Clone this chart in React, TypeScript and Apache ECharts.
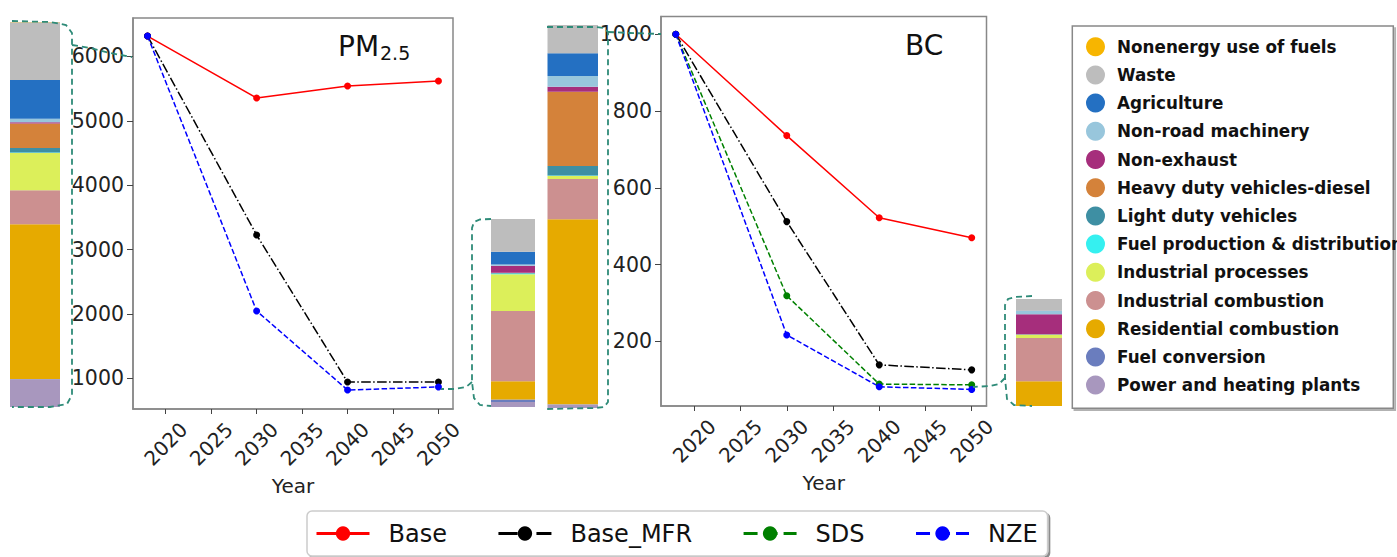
import React, { useEffect, useRef } from "react";
import * as echarts from "echarts";

// ---------- data ----------
const years = [2018, 2030, 2040, 2050];

const pmBase = [6316, 5353, 5540, 5617];
const pmBaseMFR = [6316, 3226, 943, 943];
const pmNZE = [6316, 2046, 819, 866];

const bcBase = [1000, 736, 522, 470];
const bcBaseMFR = [1000, 512, 139, 126];
const bcSDS = [1000, 319, 89, 87];
const bcNZE = [1000, 217, 82, 75];

const xTicks = [2020, 2025, 2030, 2035, 2040, 2045, 2050];
const pmTicks = [1000, 2000, 3000, 4000, 5000, 6000];
const bcTicks = [200, 400, 600, 800, 1000];

const scenarios = ["Base", "Base_MFR", "SDS", "NZE"];

// sectors listed top (legend order) -> bottom
const sectors = [
  "Nonenergy use of fuels",
  "Waste",
  "Agriculture",
  "Non-road machinery",
  "Non-exhaust",
  "Heavy duty vehicles-diesel",
  "Light duty vehicles",
  "Fuel production & distribution",
  "Industrial processes",
  "Industrial combustion",
  "Residential combustion",
  "Fuel conversion",
  "Power and heating plants",
];
const sectorColors = [
  "#F7B500",
  "#BDBDBD",
  "#2470C2",
  "#98C6DC",
  "#A62E7C",
  "#D4823A",
  "#3E8FA3",
  "#35F0F0",
  "#DCEF5A",
  "#CC9090",
  "#E6AA00",
  "#6A7DBE",
  "#A897BE",
];

// sector breakdowns (same order as sectors)
const pm2018 = [5, 949, 641, 54, 21, 406, 72, 8, 613, 559, 2548, 8, 455];
const pm2050NZE = [0, 146, 57, 6, 31, 1, 2, 4, 164, 313, 81, 12, 22];
const bc2018 = [0, 74, 59, 28, 13, 194, 25, 1, 8, 105, 483, 1, 9];
const bc2050NZE = [0, 8.8, 0.3, 2.5, 15, 0.2, 0.2, 0.2, 2.2, 32.8, 18.7, 0, 0];

const FONT = "DejaVu Sans";

export default function App() {
  const ref = useRef<HTMLDivElement>(null);

  useEffect(() => {
    if (!ref.current) return;
    const chart = echarts.init(ref.current, undefined, { renderer: "svg" });

    const scenStyle: Record<string, { color: string; dash: any; legendDash: any }> = {
      Base: { color: "#FF0000", dash: "solid", legendDash: "solid" },
      Base_MFR: { color: "#000000", dash: [9.6, 2.4, 1.5, 2.4], legendDash: [19.2, 4.8, 3, 11] },
      SDS: { color: "#008000", dash: [5.5, 2.4], legendDash: [14, 6] },
      NZE: { color: "#0000FF", dash: [5.5, 2.4], legendDash: [14, 6] },
    };

    const lineSeries = (g: number, name: string, vals: number[]) => ({
      type: "line",
      name,
      xAxisIndex: g,
      yAxisIndex: g,
      data: years.map((y, i) => [y, vals[i]]),
      symbol: "circle",
      symbolSize: 7,
      showSymbol: true,
      lineStyle: { color: scenStyle[name].color, width: 1.5, type: scenStyle[name].dash },
      itemStyle: { color: scenStyle[name].color },
      z: 3,
    });

    const lineGrids = [
      { left: 133, top: 18, width: 320, height: 391 },
      { left: 661, top: 16.5, width: 325.5, height: 389.5 },
    ];
    const barGrids = [
      { left: 10, top: 22, width: 50, height: 385 },
      { left: 491, top: 219, width: 44, height: 188 },
      { left: 547.5, top: 25, width: 50.5, height: 383 },
      { left: 1016, top: 299, width: 46, height: 107 },
    ];
    const barData = [pm2018, pm2050NZE, bc2018, bc2050NZE];

    const grids: any[] = [
      ...lineGrids.map((g) => ({ ...g, show: true, borderColor: "#888", borderWidth: 1.5, containLabel: false })),
      ...barGrids.map((g) => ({ ...g, show: false, containLabel: false })),
    ];

    const lineX = (g: number) => ({
      type: "value",
      gridIndex: g,
      min: 2016.4,
      max: 2051.6,
      axisLine: { show: true, onZero: false, lineStyle: { color: "#888", width: 1.5 } },
      axisTick: { show: true, length: 5, customValues: xTicks, lineStyle: { color: "#444" } },
      axisLabel: {
        customValues: xTicks,
        rotate: 45,
        fontSize: 20,
        fontFamily: FONT,
        color: "#222",
        margin: 35,
        align: "center",
        verticalAlign: "middle",
        formatter: (v: number) => String(v),
      },
      splitLine: { show: false },
      name: "Year",
      nameLocation: "middle",
      nameGap: 64,
      nameTextStyle: { fontSize: 20, fontFamily: FONT, color: "#222" },
    });
    const lineY = (g: number, min: number, max: number, ticks: number[]) => ({
      type: "value",
      gridIndex: g,
      min,
      max,
      axisLine: { show: true, onZero: false, lineStyle: { color: "#888", width: 1.5 } },
      axisTick: { show: true, length: 6, customValues: ticks, lineStyle: { color: "#444" } },
      axisLabel: {
        customValues: ticks,
        fontSize: 20.5,
        fontFamily: FONT,
        color: "#222",
        margin: 9,
        formatter: (v: number) => String(v),
      },
      splitLine: { show: false },
    });

    const xAxes: any[] = [lineX(0), lineX(1)];
    const yAxes: any[] = [lineY(0, 524, 6596, pmTicks), lineY(1, 31.9, 1046.1, bcTicks)];
    const series: any[] = [
      lineSeries(0, "Base", pmBase),
      lineSeries(0, "Base_MFR", pmBaseMFR),
      lineSeries(0, "NZE", pmNZE),
      lineSeries(1, "Base", bcBase),
      lineSeries(1, "Base_MFR", bcBaseMFR),
      lineSeries(1, "SDS", bcSDS),
      lineSeries(1, "NZE", bcNZE),
    ];

    barData.forEach((vals, k) => {
      const g = 2 + k;
      const total = vals.reduce((a, b) => a + b, 0);
      xAxes.push({ type: "category", gridIndex: g, data: ["v"], show: false });
      yAxes.push({ type: "value", gridIndex: g, min: 0, max: total, show: false });
      for (let i = sectors.length - 1; i >= 0; i--) {
        series.push({
          type: "bar",
          name: sectors[i],
          xAxisIndex: g,
          yAxisIndex: g,
          stack: "s" + g,
          data: [vals[i]],
          barWidth: "100%",
          itemStyle: { color: sectorColors[i] },
          z: 2,
        });
      }
    });

    const dashStyle = { stroke: "#2E8B78", lineWidth: 1.8, lineDash: [6, 4], fill: null as any };
    const pl = (points: number[][]) => ({ type: "polyline", shape: { points, smooth: 0 }, style: dashStyle, z: 20, silent: true });

    const option: any = {
      animation: false,
      backgroundColor: "#fff",
      grid: grids,
      xAxis: xAxes,
      yAxis: yAxes,
      series,
      legend: [
        {
          data: scenarios.map((n) => ({
            name: n,
            lineStyle: { width: 3, type: scenStyle[n].legendDash },
          })),
          orient: "horizontal",
          left: 307,
          top: 511,
          itemWidth: 53,
          itemHeight: 18,
          itemGap: 50,
          padding: [10, 10, 10, 8],
          borderColor: "#ccc",
          borderWidth: 1.5,
          borderRadius: 5,
          backgroundColor: "#fff",
          shadowColor: "rgba(0,0,0,0.45)",
          shadowOffsetX: 2,
          shadowOffsetY: 2,
          shadowBlur: 1,
          selectedMode: false,
          textStyle: { fontSize: 24, fontFamily: FONT, color: "#111", padding: [0, 0, 0, 14], lineHeight: 25 },
          z: 6,
        },
        {
          data: sectors,
          orient: "vertical",
          left: 1086,
          top: 37.2,
          icon: "circle",
          itemWidth: 19,
          itemHeight: 19,
          itemGap: 9.2,
          padding: 0,
          selectedMode: false,
          textStyle: {
            fontSize: 16.8,
            fontWeight: "bold",
            fontFamily: FONT,
            color: "#111",
            padding: [0, 0, 0, 7],
            lineHeight: 19,
          },
          z: 6,
        },
      ],
      graphic: [
        {
          type: "rect",
          shape: { x: 1072.3, y: 26, width: 321, height: 382.3 },
          style: { fill: "#fff", stroke: "#888", lineWidth: 1.5, shadowColor: "rgba(0,0,0,0.3)", shadowOffsetX: 2, shadowOffsetY: 2, shadowBlur: 1 },
          z: 1,
          silent: true,
        },
        { type: "text", x: 338, y: 46, style: { text: "PM", fontSize: 28, fontFamily: FONT, fill: "#111", verticalAlign: "middle", align: "left" }, z: 10 },
        { type: "text", x: 380, y: 52.5, style: { text: "2.5", fontSize: 19, fontFamily: FONT, fill: "#111", verticalAlign: "middle", align: "left" }, z: 10 },
        { type: "text", x: 905, y: 45, style: { text: "BC", fontSize: 28, fontFamily: FONT, fill: "#111", verticalAlign: "middle", align: "left" }, z: 10 },
        // brackets linking the sector bars to the curves
        pl([[12, 21], [50, 22], [66, 25], [72, 33], [72, 395], [67, 404], [50, 407], [12, 407]]),
        pl([[72, 45], [90, 48], [110, 53], [132, 57]]),
        pl([[491, 219], [480, 219.5], [474, 222], [472, 228], [472, 382], [474, 398], [480, 405], [491, 406]]),
        pl([[472, 382], [466, 387], [455, 389], [441, 389]]),
        pl([[547, 27], [595, 27], [604, 28], [608, 32], [608, 402], [604, 407], [595, 408], [547, 409]]),
        pl([[608, 32], [630, 33], [661, 34]]),
        pl([[1032, 296], [1015, 297], [1008, 299], [1005, 305], [1005, 378], [1007, 399], [1014, 405], [1032, 406]]),
        pl([[1005, 378], [999, 384], [990, 386], [973, 387]]),
      ],
    };

    chart.setOption(option);
    return () => chart.dispose();
  }, []);

  return (
    <div
      ref={ref}
      style={{ position: "fixed", left: 0, top: 0, width: 1397, height: 557, background: "#fff" }}
    />
  );
}
